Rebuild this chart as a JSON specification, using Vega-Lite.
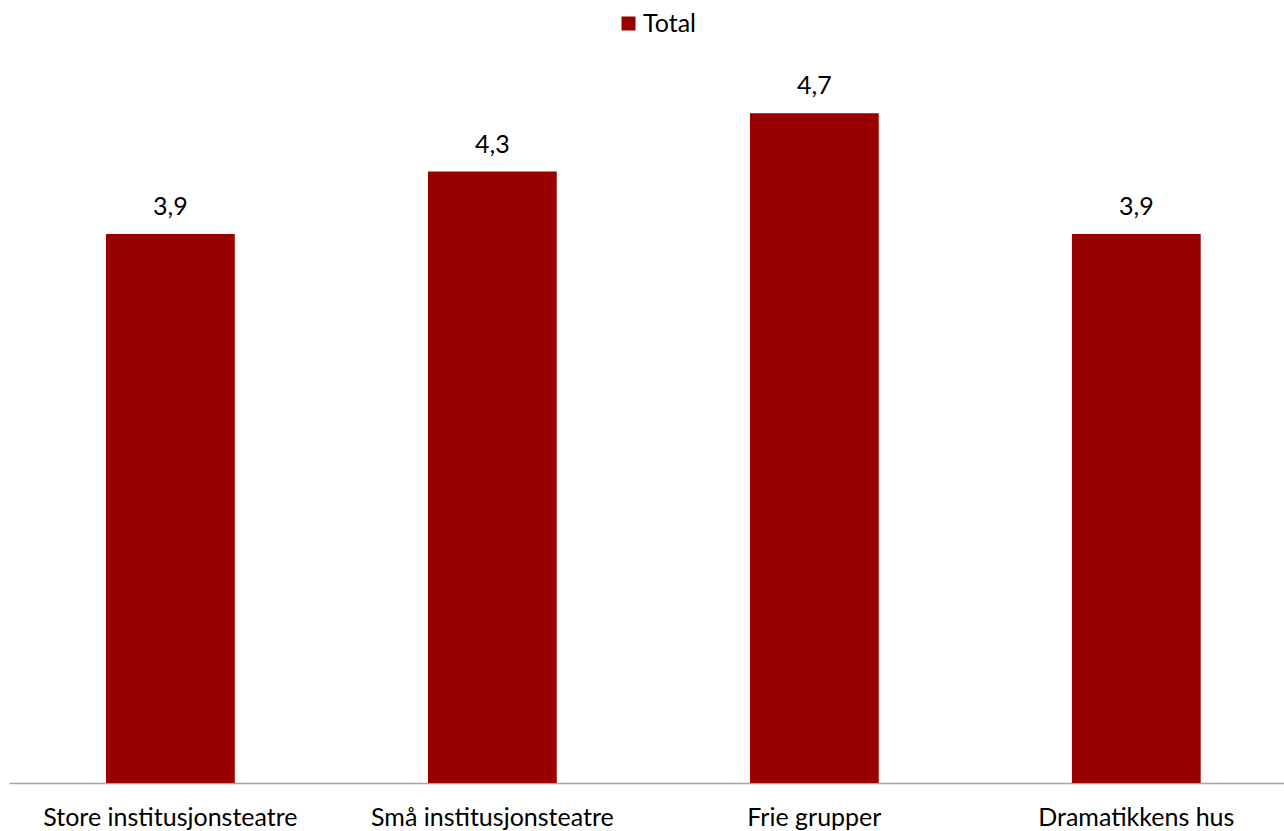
{
  "$schema": "https://vega.github.io/schema/vega-lite/v6.json",
  "width": 1275,
  "height": 711,
  "autosize": {"type": "none"},
  "padding": {"left": 9, "top": 72, "right": 0, "bottom": 48},
  "data": {
    "values": [
      {"kategori": "Store institusjonsteatre", "verdi": 3.86, "serie": "Total"},
      {"kategori": "Små institusjonsteatre", "verdi": 4.3, "serie": "Total"},
      {"kategori": "Frie grupper", "verdi": 4.71, "serie": "Total"},
      {"kategori": "Dramatikkens hus", "verdi": 3.86, "serie": "Total"}
    ]
  },
  "encoding": {
    "x": {
      "field": "kategori",
      "type": "nominal",
      "sort": null,
      "scale": {"paddingInner": 0.6, "paddingOuter": 0.28, "align": 0.538},
      "axis": {
        "title": null,
        "labelAngle": 0,
        "ticks": false,
        "grid": false,
        "domainColor": "#a6a6a6",
        "domainWidth": 1.5,
        "labelFont": "Lato",
        "labelFontSize": 25,
        "labelColor": "#000000",
        "labelPadding": 22,
        "labelLimit": 0
      }
    },
    "y": {
      "field": "verdi",
      "type": "quantitative",
      "scale": {"domain": [0, 5]},
      "axis": null
    }
  },
  "layer": [
    {
      "mark": {"type": "bar"},
      "encoding": {
        "color": {
          "field": "serie",
          "type": "nominal",
          "scale": {"range": ["#990000"]},
          "legend": {
            "title": null,
            "orient": "none",
            "legendX": 607,
            "legendY": -61,
            "direction": "horizontal",
            "symbolType": "square",
            "symbolSize": 196,
            "symbolStrokeWidth": 0,
            "labelFont": "Lato",
            "labelFontSize": 25,
            "labelColor": "#000000",
            "labelOffset": 2
          }
        }
      }
    },
    {
      "mark": {"type": "text", "dy": -19, "baseline": "alphabetic", "font": "Lato", "fontSize": 25, "color": "#000000"},
      "encoding": {
        "text": {"field": "verdi", "type": "quantitative", "format": ".1f"}
      }
    }
  ],
  "config": {
    "view": {"stroke": null},
    "locale": {"number": {"decimal": ",", "thousands": " ", "grouping": [3], "currency": ["", " kr"]}}
  }
}
